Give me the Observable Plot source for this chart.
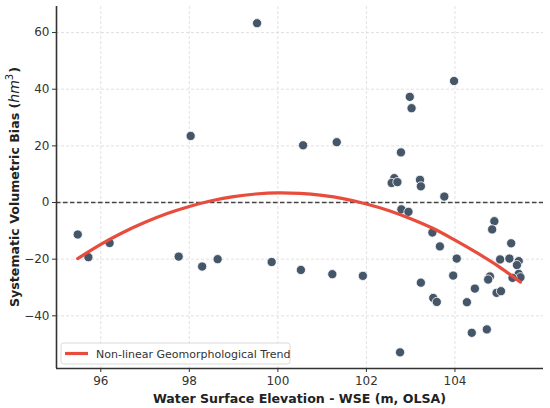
<!DOCTYPE html>
<html>
<head>
<meta charset="utf-8">
<script src="https://cdn.jsdelivr.net/npm/d3@7"></script>
<script src="https://cdn.jsdelivr.net/npm/@observablehq/plot@0.6"></script>
<style>
  html, body { margin: 0; padding: 0; background: #fff; }
  #chart { position: relative; width: 550px; height: 408px; }
  svg { font-family: "DejaVu Sans", sans-serif; }
</style>
</head>
<body>
<div id="chart"></div>
<script>
// Observations: water surface elevation (m, OLSA) and systematic volumetric bias (hm³)
const wse = [
  99.53, 98.03, 100.57, 101.33, 102.98, 103.02, 103.98, 102.78,
  102.63, 102.57, 102.70, 103.21, 103.23, 103.76,
  95.48, 95.72, 96.20, 97.76, 98.29, 98.64, 99.86,
  102.79, 102.95, 100.52, 101.23, 101.92, 103.23, 103.49, 103.66,
  104.04, 103.96, 103.51, 103.59, 104.27, 104.45, 104.38, 104.72,
  102.76, 104.89, 104.84, 105.27, 105.02, 105.23, 105.44, 105.40,
  104.79, 104.75, 104.94, 105.04, 105.44, 105.48, 105.30
];
const bias = [
  63.3, 23.5, 20.2, 21.3, 37.3, 33.3, 42.9, 17.7,
  8.6, 6.9, 7.2, 8.0, 5.7, 2.1,
  -11.3, -19.3, -14.3, -19.1, -22.6, -20.0, -21.0,
  -2.4, -3.3, -23.8, -25.3, -25.9, -28.3, -10.6, -15.5,
  -19.8, -25.8, -33.7, -35.1, -35.2, -30.4, -46.0, -44.8,
  -52.9, -6.6, -9.5, -14.4, -20.1, -19.8, -20.7, -22.1,
  -26.1, -27.2, -31.9, -31.3, -25.2, -26.4, -26.6
];
// Trend curve
const trendX = [95.48, 96, 96.5, 97, 97.5, 98, 98.5, 99, 99.5, 100, 100.5, 101, 101.5, 102, 102.5, 103, 103.5, 104, 104.5, 105, 105.48];
const trendY = [-19.8, -14.8, -10.6, -7.0, -3.9, -1.4, 0.6, 2.1, 3.0, 3.4, 3.2, 2.5, 1.3, -0.5, -2.8, -5.7, -9.1, -13.3, -17.8, -22.7, -28.1];

const xTicks = [96, 98, 100, 102, 104];
const yTicks = [-40, -20, 0, 20, 40, 60];

const points = wse.map((x, i) => ({x, y: bias[i]}));
const trend = trendX.map((x, i) => ({x, y: trendY[i]}));

const plot = Plot.plot({
  width: 550,
  height: 408,
  marginLeft: 56,
  marginRight: 7,
  marginTop: 6,
  marginBottom: 40,
  style: {fontFamily: "DejaVu Sans, sans-serif", fontSize: "12px", color: "#333", background: "#fff"},
  x: {domain: [95, 106]},
  y: {domain: [-58.6, 69.2]},
  marks: [
    Plot.gridX(xTicks, {stroke: "#d9d9d9", strokeOpacity: 1, strokeDasharray: "3,2", strokeWidth: 0.8}),
    Plot.gridY(yTicks, {stroke: "#d9d9d9", strokeOpacity: 1, strokeDasharray: "3,2", strokeWidth: 0.8}),
    Plot.ruleY([0], {stroke: "#444", strokeWidth: 1.3, strokeDasharray: "4.5,2.5"}),
    Plot.dot(points, {x: "x", y: "y", r: 4.6, fill: "#465669", stroke: "#fff", strokeWidth: 0.8}),
    Plot.line(trend, {x: "x", y: "y", curve: "catmull-rom", stroke: "#e74c3c", strokeWidth: 3.2}),
    Plot.axisX(xTicks, {tickSize: 4, tickPadding: 4, stroke: "#333", fill: "#333", fontSize: 12, label: null}),
    Plot.axisY(yTicks, {tickSize: 4, tickPadding: 3, stroke: "#333", fill: "#333", fontSize: 12, label: null,
      tickFormat: d => d < 0 ? "\u2212" + Math.abs(d) : String(d)}),
    Plot.ruleX([95], {stroke: "#333", strokeWidth: 1.6}),
    Plot.ruleY([-58.6], {stroke: "#333", strokeWidth: 1.6})
  ]
});
document.getElementById("chart").appendChild(plot);

const svg = d3.select(plot);
// X axis label
svg.append("text")
  .attr("x", 299.5).attr("y", 403)
  .attr("text-anchor", "middle")
  .attr("font-family", "DejaVu Sans, sans-serif")
  .attr("font-weight", "bold").attr("font-size", 12.6).attr("fill", "#222")
  .text("Water Surface Elevation - WSE (m, OLSA)");
// Y axis label with italic unit
const yl = svg.append("text")
  .attr("transform", "translate(19,187) rotate(-90)")
  .attr("text-anchor", "middle")
  .attr("font-family", "DejaVu Sans, sans-serif")
  .attr("font-weight", "bold").attr("font-size", 12.6).attr("fill", "#222");
yl.append("tspan").text("Systematic Volumetric Bias (");
yl.append("tspan").attr("font-style", "italic").attr("font-weight", "normal").attr("font-size", 14).text("hm");
yl.append("tspan").attr("font-weight", "normal").attr("font-size", 10).attr("dy", -6).text("3");
yl.append("tspan").attr("dy", 6).attr("dx", 1).text(")");

// Legend
const lg = svg.append("g").attr("text-anchor", "start");
lg.append("rect").attr("x", 61).attr("y", 343).attr("width", 229).attr("height", 21)
  .attr("rx", 2.5).attr("fill", "#fff").attr("fill-opacity", 0.85).attr("stroke", "#d0d0d0").attr("stroke-width", 0.8);
lg.append("line").attr("x1", 65).attr("x2", 88).attr("y1", 353.5).attr("y2", 353.5)
  .attr("stroke", "#e74c3c").attr("stroke-width", 3.2);
lg.append("text").attr("x", 96).attr("y", 357.5).attr("text-anchor", "start")
  .attr("font-family", "DejaVu Sans, sans-serif").attr("font-size", 11).attr("fill", "#333")
  .text("Non-linear Geomorphological Trend");
</script>
</body>
</html>
